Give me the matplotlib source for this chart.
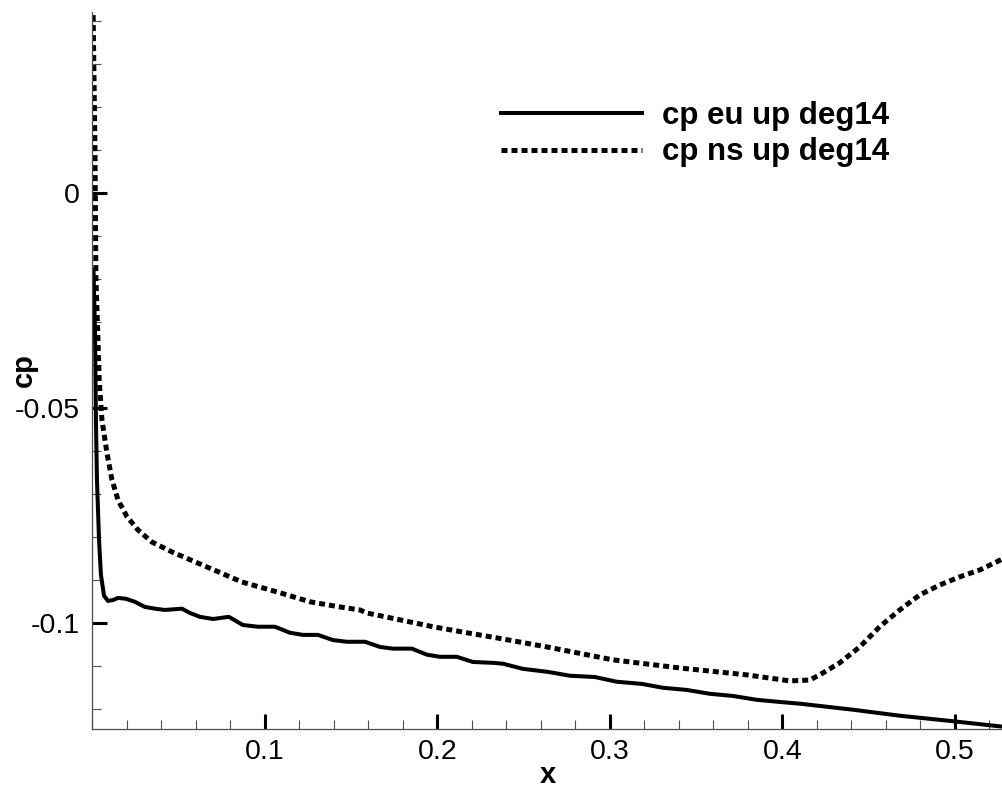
import matplotlib.pyplot as plt
from matplotlib.ticker import MultipleLocator, FixedLocator

plt.rcParams['font.family'] = ['Liberation Sans', 'DejaVu Sans']

# Euler, upper surface, 14 deg
x_eu = [0.0006, 0.00145, 0.0020, 0.0026, 0.0038, 0.0049, 0.0067, 0.0090, 0.0119,
        0.0148, 0.0194, 0.0246, 0.0304, 0.0362, 0.0420, 0.0519, 0.0565, 0.0623,
        0.0699, 0.0791, 0.0872, 0.0959, 0.1058, 0.1145, 0.1220, 0.1307, 0.1394,
        0.1475, 0.1580, 0.1667, 0.1742, 0.1852, 0.1939, 0.2014, 0.2113, 0.2206,
        0.2322, 0.2380, 0.2496, 0.2641, 0.2768, 0.2913, 0.3041, 0.3186, 0.3307,
        0.3446, 0.3580, 0.3713, 0.3852, 0.3986, 0.4101, 0.4409, 0.4681, 0.4971,
        0.5290]
cp_eu = [-0.0179, -0.0319, -0.0528, -0.0667, -0.0807, -0.0888, -0.0937, -0.0949,
         -0.0947, -0.0942, -0.0944, -0.0951, -0.0963, -0.0967, -0.0970, -0.0967,
         -0.0977, -0.0986, -0.0991, -0.0986, -0.1005, -0.1009, -0.1009, -0.1023,
         -0.1028, -0.1028, -0.1040, -0.1044, -0.1044, -0.1056, -0.1060, -0.1060,
         -0.1074, -0.1079, -0.1079, -0.1091, -0.1093, -0.1095, -0.1107, -0.1114,
         -0.1123, -0.1126, -0.1137, -0.1142, -0.1151, -0.1156, -0.1165, -0.1170,
         -0.1179, -0.1184, -0.1188, -0.1202, -0.1216, -0.1228, -0.1242]

# Navier-Stokes, upper surface, 14 deg
x_ns = [0.0003, 0.00145, 0.0020, 0.0030, 0.0039, 0.0055, 0.0084, 0.0113, 0.0148,
        0.0200, 0.0264, 0.0345, 0.0461, 0.0594, 0.0728, 0.0867, 0.1087, 0.1261,
        0.1435, 0.1551, 0.1591, 0.1783, 0.1974, 0.2171, 0.2345, 0.2635, 0.3017,
        0.3406, 0.3794, 0.4043, 0.4159, 0.4217, 0.4333, 0.4449, 0.4565, 0.4681,
        0.4797, 0.4913, 0.5029, 0.5145, 0.5290]
cp_ns = [0.0437, 0.0100, -0.0202, -0.0318, -0.0435, -0.0528, -0.0605, -0.0667,
         -0.0714, -0.0753, -0.0784, -0.0812, -0.0835, -0.0858, -0.0881, -0.0905,
         -0.0930, -0.0951, -0.0963, -0.0970, -0.0977, -0.0993, -0.1009, -0.1023,
         -0.1035, -0.1056, -0.1086, -0.1105, -0.1121, -0.1135, -0.1133, -0.1121,
         -0.1093, -0.1056, -0.1009, -0.0970, -0.0935, -0.0912, -0.0893, -0.0877,
         -0.0849]

fig = plt.figure(figsize=(10.03, 7.89), dpi=100)
ax = fig.add_axes([0.0922, 0.0760, 0.9078, 0.9088])

ax.plot(x_eu, cp_eu, color='black', lw=2.9, label='cp eu up deg14')
ax.plot(x_ns, cp_ns, color='black', lw=3.6, linestyle=(0, (1.2, 0.8)),
        dash_capstyle='butt', label='cp ns up deg14')

ax.set_xlim(0, 0.528)
ax.set_ylim(-0.1247, 0.0421)

ax.spines['top'].set_visible(False)
ax.spines['right'].set_visible(False)
for s in ['left', 'bottom']:
    ax.spines[s].set_color('0.3')
    ax.spines[s].set_linewidth(0.9)

ax.xaxis.set_major_locator(FixedLocator([0.1, 0.2, 0.3, 0.4, 0.5]))
ax.xaxis.set_minor_locator(MultipleLocator(0.02))
ax.yaxis.set_major_locator(FixedLocator([-0.1, -0.05, 0.0]))
ax.yaxis.set_minor_locator(MultipleLocator(0.01))
ax.set_xticklabels(['0.1', '0.2', '0.3', '0.4', '0.5'])
ax.set_yticklabels(['-0.1', '-0.05', '0'])

ax.tick_params(which='major', direction='in', length=11, width=2.2, color='black',
               labelsize=20.5, pad=7)
ax.tick_params(which='minor', direction='in', length=6.5, width=0.8, color='0.3')
ax.tick_params(axis='y', which='major', pad=9)

ax.set_xlabel('x', fontsize=21, fontweight='bold')
ax.xaxis.set_label_coords(0.5, -0.045)
ax.set_ylabel('cp', fontsize=21, fontweight='bold')
ax.yaxis.set_label_coords(-0.06, 0.5)

leg = ax.legend(loc='upper left', bbox_to_anchor=(0.4487, 0.876), frameon=False,
                prop={'size': 22.5, 'weight': 'bold'}, handlelength=4.5,
                handletextpad=0.65, labelspacing=0.21, borderpad=0, borderaxespad=0)

fig.savefig('out.png', dpi=100)
